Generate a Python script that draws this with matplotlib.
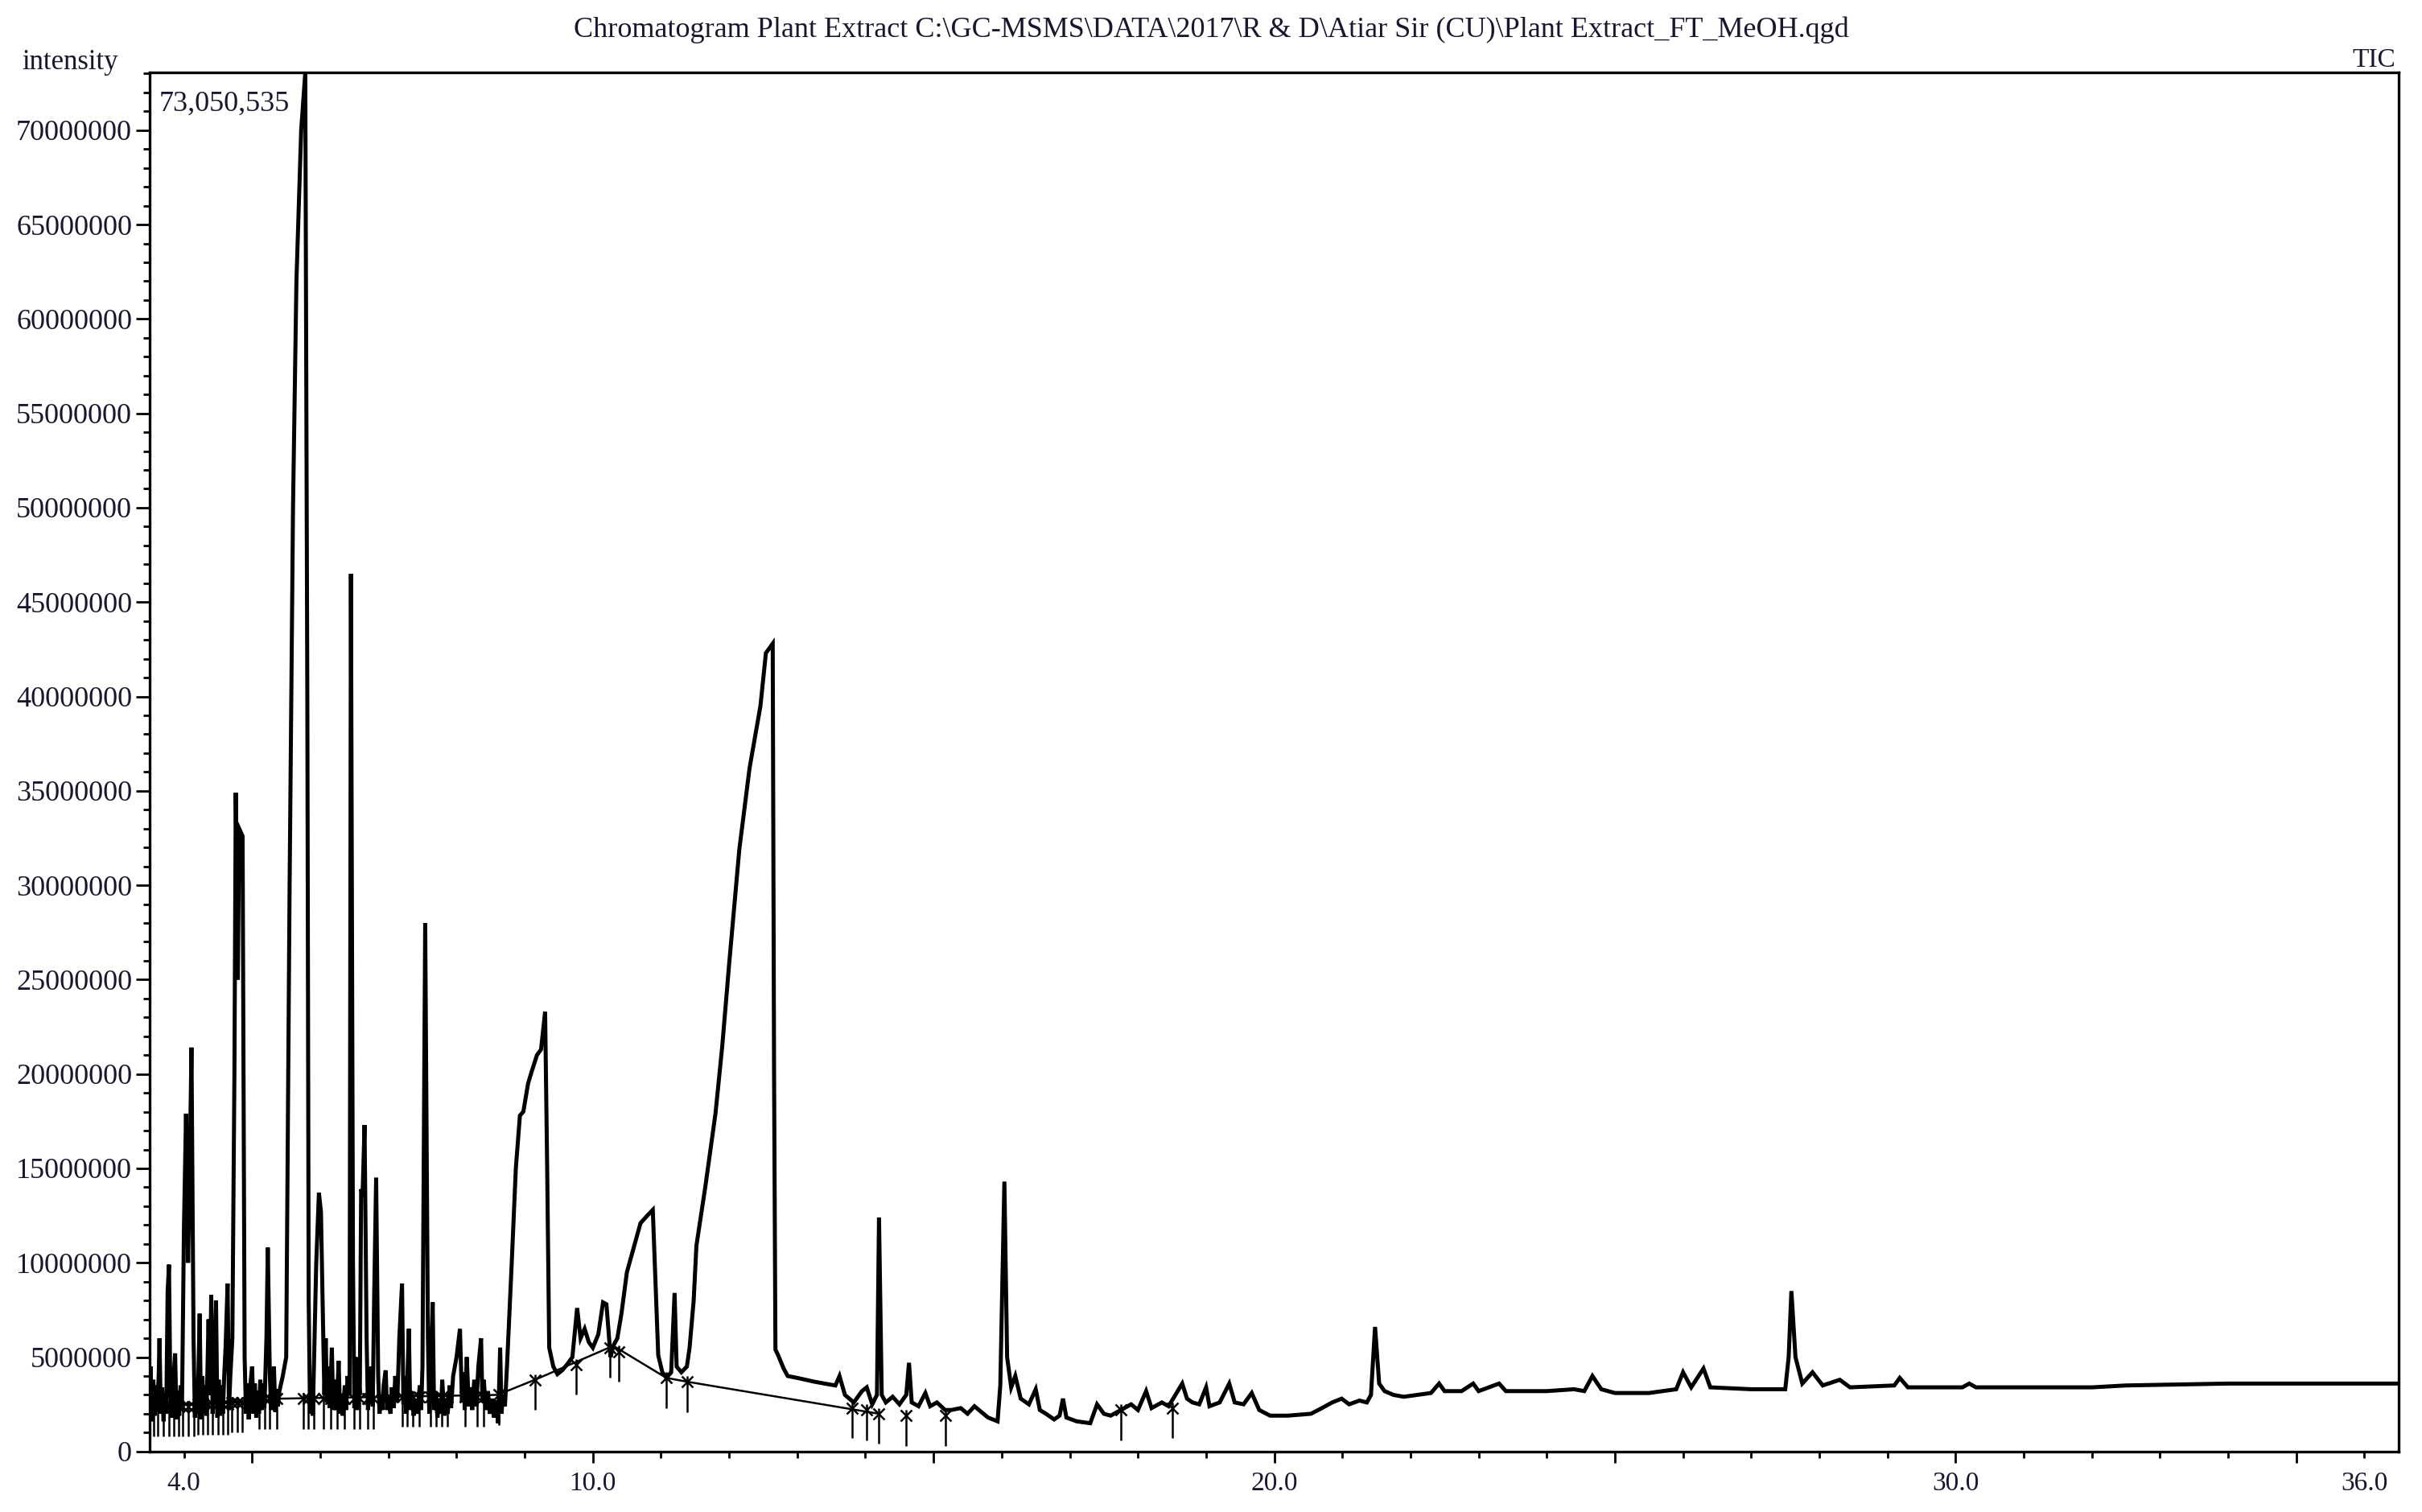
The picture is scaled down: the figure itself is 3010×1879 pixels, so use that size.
import numpy as np
import matplotlib
matplotlib.use('Agg')
import matplotlib.pyplot as plt
from matplotlib.ticker import FixedLocator, FuncFormatter

plt.rcParams['font.family'] = ['Liberation Serif', 'DejaVu Serif']

# retention time (min) and TIC intensity (millions)
rt = [3.50, 3.51, 3.53, 3.55, 3.57, 3.59, 3.61, 3.63, 3.64, 3.66, 3.68, 3.70, 3.72, 3.74, 3.76,
      3.78, 3.80, 3.82, 3.84, 3.87, 3.89, 3.91, 3.93, 3.95, 3.97, 4.00, 4.03, 4.06, 4.08, 4.11,
      4.14, 4.16, 4.18, 4.20, 4.23, 4.25, 4.27, 4.29, 4.31, 4.33, 4.36, 4.38, 4.40, 4.42, 4.45,
      4.47, 4.49, 4.51, 4.53, 4.55, 4.57, 4.59, 4.61, 4.64, 4.66, 4.68, 4.71, 4.74, 4.76, 4.79,
      4.81, 4.86, 4.89, 4.91, 4.93, 4.95, 4.97, 5.00, 5.02, 5.04, 5.06, 5.08, 5.10, 5.12, 5.14,
      5.16, 5.18, 5.21, 5.23, 5.26, 5.28, 5.30, 5.32, 5.34, 5.36, 5.38, 5.40, 5.45, 5.50, 5.55,
      5.60, 5.65, 5.72, 5.78, 5.81, 5.83, 5.85, 5.87, 5.89, 5.91, 5.94, 5.98, 6.01, 6.04, 6.06,
      6.08, 6.10, 6.12, 6.14, 6.17, 6.19, 6.22, 6.24, 6.27, 6.29, 6.31, 6.33, 6.36, 6.38, 6.40,
      6.43, 6.45, 6.48, 6.50, 6.52, 6.54, 6.56, 6.58, 6.60, 6.62, 6.65, 6.68, 6.70, 6.72, 6.75,
      6.77, 6.79, 6.82, 6.85, 6.87, 6.89, 6.91, 6.93, 6.96, 6.98, 7.00, 7.03, 7.05, 7.08, 7.10,
      7.13, 7.16, 7.20, 7.22, 7.24, 7.26, 7.28, 7.30, 7.32, 7.34, 7.37, 7.40, 7.43, 7.46, 7.48,
      7.50, 7.54, 7.58, 7.60, 7.62, 7.65, 7.67, 7.69, 7.72, 7.74, 7.77, 7.79, 7.82, 7.84, 7.87,
      7.90, 7.92, 7.95, 8.00, 8.05, 8.08, 8.10, 8.12, 8.15, 8.18, 8.20, 8.23, 8.26, 8.29, 8.32,
      8.36, 8.38, 8.40, 8.43, 8.46, 8.49, 8.52, 8.55, 8.58, 8.61, 8.64, 8.66, 8.68, 8.71, 8.74,
      8.81, 8.87, 8.93, 8.98, 9.05, 9.10, 9.18, 9.24, 9.30, 9.33, 9.36, 9.42, 9.48, 9.55, 9.62,
      9.70, 9.77, 9.82, 9.88, 9.94, 10.00, 10.08, 10.15, 10.20, 10.26, 10.30, 10.36, 10.42, 10.50, 10.60,
      10.70, 10.80, 10.88, 10.92, 10.96, 11.02, 11.08, 11.15, 11.20, 11.23, 11.30, 11.38, 11.42, 11.48, 11.52,
      11.65, 11.80, 11.90, 12.00, 12.15, 12.30, 12.46, 12.54, 12.64, 12.66, 12.68, 12.72, 12.80, 12.86, 13.00,
      13.25, 13.40, 13.56, 13.62, 13.70, 13.83, 13.95, 14.02, 14.10, 14.17, 14.20, 14.24, 14.30, 14.40, 14.50,
      14.60, 14.64, 14.68, 14.78, 14.88, 14.95, 15.05, 15.17, 15.26, 15.40, 15.50, 15.60, 15.70, 15.80, 15.94,
      15.98, 16.04, 16.08, 16.14, 16.20, 16.28, 16.40, 16.50, 16.56, 16.65, 16.77, 16.85, 16.90, 16.95, 17.10,
      17.30, 17.40, 17.50, 17.60, 17.75, 17.90, 18.00, 18.12, 18.20, 18.35, 18.45, 18.55, 18.65, 18.72, 18.80,
      18.90, 19.00, 19.05, 19.20, 19.34, 19.42, 19.55, 19.67, 19.78, 19.94, 20.20, 20.54, 20.70, 20.85, 20.99,
      21.10, 21.25, 21.36, 21.42, 21.48, 21.54, 21.62, 21.75, 21.90, 22.10, 22.30, 22.42, 22.50, 22.75, 22.92,
      23.00, 23.30, 23.40, 24.00, 24.40, 24.55, 24.67, 24.80, 25.00, 25.50, 25.90, 26.00, 26.12, 26.30, 26.40,
      27.00, 27.50, 27.55, 27.59, 27.65, 27.75, 27.90, 28.05, 28.30, 28.45, 29.10, 29.18, 29.30, 30.10, 30.20,
      30.30, 32.00, 32.50, 34.00, 36.50]
tic = [2.0, 4.5, 1.6, 3.8, 1.9, 3.5, 2.2, 4.2, 6.0, 2.0, 3.4, 1.6, 3.0, 2.0, 8.5,
       9.9, 3.0, 1.8, 3.6, 5.2, 1.7, 3.2, 1.9, 3.5, 2.2, 12.0, 17.9, 10.0, 14.0, 21.4,
       6.0, 1.8, 3.6, 2.0, 7.3, 1.7, 4.0, 2.0, 3.5, 1.9, 7.0, 3.0, 8.3, 2.0, 4.5,
       8.0, 1.8, 3.8, 1.9, 3.5, 2.0, 4.0, 5.5, 8.9, 2.2, 4.0, 6.0, 20.0, 34.9, 25.0,
       33.0, 32.6, 5.0, 2.0, 3.6, 1.7, 3.4, 4.5, 2.0, 3.6, 1.8, 3.2, 2.0, 3.8, 2.2,
       3.6, 2.3, 6.0, 10.8, 4.0, 2.2, 3.5, 4.5, 2.1, 3.3, 2.4, 3.2, 4.0, 5.0, 30.0,
       50.0, 62.0, 70.0, 73.05, 40.0, 8.0, 2.0, 3.5, 1.9, 5.0, 9.9, 13.7, 12.7, 7.0, 3.0,
       6.0, 2.6, 4.5, 2.3, 5.5, 2.2, 3.8, 2.2, 4.8, 2.0, 3.0, 1.9, 3.5, 2.2, 4.0,
       3.0, 46.5, 10.0, 2.3, 5.0, 2.2, 4.0, 3.0, 13.9, 13.5, 17.3, 6.0, 2.2, 3.5, 4.5,
       2.4, 8.0, 14.5, 4.0, 2.0, 3.0, 2.2, 3.5, 4.3, 2.2, 3.0, 2.0, 3.4, 2.3, 4.0,
       2.6, 6.0, 8.9, 2.5, 4.0, 2.0, 4.0, 6.5, 2.2, 3.2, 1.9, 2.8, 2.0, 3.5, 2.2,
       4.5, 28.0, 6.0, 2.0, 4.0, 7.9, 2.2, 3.2, 1.8, 2.8, 2.0, 3.8, 1.9, 2.6, 2.0,
       3.5, 2.3, 4.0, 5.0, 6.5, 2.6, 4.2, 2.2, 5.0, 2.4, 3.4, 2.2, 3.8, 2.4, 4.5,
       6.0, 2.6, 3.8, 2.2, 3.2, 2.0, 2.8, 1.8, 2.7, 1.5, 5.5, 2.0, 3.0, 2.4, 4.5,
       10.0, 15.0, 17.8, 18.0, 19.5, 20.1, 21.0, 21.3, 23.3, 15.0, 5.5, 4.5, 4.1, 4.3, 4.6,
       5.0, 7.6, 6.0, 6.5, 5.8, 5.5, 6.2, 7.9, 7.8, 5.0, 5.6, 6.0, 7.3, 9.5, 10.8,
       12.1, 12.5, 12.8, 9.0, 5.1, 4.2, 3.9, 4.2, 8.4, 4.5, 4.2, 4.5, 5.5, 8.0, 10.9,
       14.0, 17.9, 21.5, 25.8, 31.9, 36.2, 39.5, 42.3, 42.8, 20.0, 5.4, 5.1, 4.4, 4.0, 3.9,
       3.7, 3.6, 3.5, 4.0, 3.0, 2.6, 3.2, 3.4, 2.5, 3.0, 12.4, 3.0, 2.6, 2.9, 2.5,
       3.0, 4.7, 2.6, 2.4, 3.1, 2.4, 2.6, 2.2, 2.2, 2.3, 2.0, 2.4, 2.1, 1.8, 1.6,
       3.5, 14.3, 5.0, 3.4, 4.0, 2.8, 2.5, 3.3, 2.2, 2.0, 1.7, 1.9, 2.8, 1.8, 1.6,
       1.5, 2.5, 2.0, 1.9, 2.2, 2.5, 2.2, 3.2, 2.3, 2.6, 2.4, 3.0, 3.6, 2.8, 2.6,
       2.5, 3.4, 2.4, 2.6, 3.6, 2.6, 2.5, 3.1, 2.2, 1.9, 1.9, 2.0, 2.3, 2.6, 2.8,
       2.5, 2.7, 2.6, 3.0, 6.6, 3.6, 3.2, 3.0, 2.9, 3.0, 3.1, 3.6, 3.2, 3.2, 3.6,
       3.2, 3.6, 3.2, 3.2, 3.3, 3.2, 4.0, 3.3, 3.1, 3.1, 3.3, 4.2, 3.4, 4.4, 3.4,
       3.3, 3.3, 5.0, 8.5, 5.0, 3.6, 4.2, 3.5, 3.8, 3.4, 3.5, 3.9, 3.4, 3.4, 3.6,
       3.4, 3.4, 3.5, 3.6, 3.6]
assert len(rt) == len(tic)

# integration baseline drawn under the peaks
base_rt = [3.50, 4.85, 5.40, 8.60, 9.15, 10.30, 11.08, 11.38, 14.20]
base_tic = [2.4, 2.6, 2.8, 3.0, 3.8, 5.6, 3.9, 3.7, 2.0]

# peak start / end marks
mark_rt = [3.55, 3.62, 3.70, 3.78, 3.85, 3.92, 3.98, 4.06, 4.14, 4.20, 4.28, 4.35, 4.42, 4.50,
           4.57, 4.64, 4.70, 4.78, 4.85, 5.10, 5.18, 5.26, 5.36, 5.75, 5.82, 5.90, 6.05, 6.15,
           6.25, 6.35, 6.50, 6.58, 6.70, 6.78, 7.20, 7.28, 7.36, 7.45, 7.62, 7.70, 7.78, 7.86,
           8.12, 8.30, 8.40, 8.62, 9.15, 9.75, 10.25, 10.38, 11.08, 11.38, 13.80, 14.02, 14.20,
           14.60, 15.17, 17.75, 18.50]
mark_tic = [2.4, 2.4, 2.4, 2.4, 2.4, 2.4, 2.4, 2.4, 2.4, 2.5, 2.5, 2.5, 2.5, 2.5,
            2.5, 2.5, 2.6, 2.6, 2.6, 2.8, 2.8, 2.8, 2.8, 2.8, 2.8, 2.8, 2.8, 2.8,
            2.8, 2.8, 2.8, 2.8, 2.8, 2.8, 2.9, 2.9, 2.9, 2.9, 2.9, 2.9, 2.9, 2.9,
            2.9, 2.9, 2.9, 3.0, 3.8, 4.6, 5.5, 5.3, 3.9, 3.7, 2.3, 2.2, 2.0,
            1.9, 1.9, 2.2, 2.3]

max_int = 73050535
x_labels = {4: '4.0', 10: '10.0', 20: '20.0', 30: '30.0', 36: '36.0'}
txt = '#17172f'

rt = np.array(rt)
tic = np.array(tic) * 1e6
mark_rt = np.array(mark_rt)
mark_tic = np.array(mark_tic) * 1e6

fig = plt.figure(figsize=(30.1, 18.79), dpi=100)
ax = fig.add_axes([0.0619, 0.040, 0.9284, 0.912])

ax.plot(rt, tic, color='black', lw=3.6, solid_joinstyle='miter')
ax.plot(base_rt, np.array(base_tic) * 1e6, color='black', lw=1.8)
ax.vlines(mark_rt, mark_tic - 1.6e6, mark_tic + 0.3e6, color='black', lw=1.8)
ax.plot(mark_rt, mark_tic, 'x', color='black', ms=10, mew=1.8)

ax.set_xlim(3.5, 36.5)
ax.set_ylim(0, max_int)

# x: long ticks every 5 min, short every minute, labels at 4/10/20/30/36
ax.xaxis.set_major_locator(FixedLocator([5, 10, 15, 20, 25, 30, 35]))
ax.xaxis.set_minor_locator(FixedLocator(list(range(4, 37))))
ax.xaxis.set_major_formatter(FuncFormatter(lambda v, p: x_labels.get(int(round(v)), '')))
ax.xaxis.set_minor_formatter(FuncFormatter(lambda v, p: x_labels.get(int(round(v)), '') if int(round(v)) in (4, 36) else ''))
ax.tick_params(axis='x', which='major', length=10, width=2, pad=8, labelsize=24, labelcolor=txt)
ax.tick_params(axis='x', which='minor', length=6, width=2, pad=12, labelsize=24, labelcolor=txt)

ax.yaxis.set_major_locator(FixedLocator(np.arange(0, 70000001, 5000000)))
ax.yaxis.set_minor_locator(FixedLocator(np.arange(0, 73000001, 1000000)))
ax.yaxis.set_major_formatter(FuncFormatter(lambda v, p: '%d' % v))
ax.tick_params(axis='y', which='major', length=12, width=2, pad=4, labelsize=26, labelcolor=txt)
ax.tick_params(axis='y', which='minor', length=6, width=2)

for s in ax.spines.values():
    s.set_linewidth(2.4)

fig.text(0.5, 0.980, 'Chromatogram Plant Extract C:\\GC-MSMS\\DATA\\2017\\R & D\\Atiar Sir (CU)\\Plant Extract_FT_MeOH.qgd',
         ha='center', va='center', fontsize=26, color=txt)
fig.text(0.009, 0.959, 'intensity', ha='left', va='center', fontsize=25, color=txt)
fig.text(0.989, 0.96, 'TIC', ha='right', va='center', fontsize=24, color=txt)
ax.text(0.004, 0.987, '{:,}'.format(max_int), transform=ax.transAxes, ha='left', va='top',
        fontsize=26, color=txt)

fig.savefig('out.png', dpi=100)
